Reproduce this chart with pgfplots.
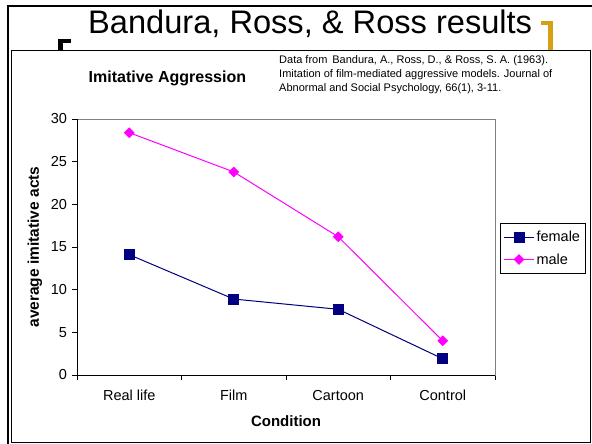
\documentclass[border=0pt]{standalone}
\usepackage{fontspec}
\setmainfont{Liberation Sans}
\usepackage{pgfplots}
\pgfplotsset{compat=1.18}
\definecolor{navyb}{RGB}{0,0,128}
\definecolor{magb}{RGB}{255,0,255}
\definecolor{goldb}{RGB}{214,160,20}
\definecolor{boxgray}{RGB}{128,128,128}
\begin{document}
\begin{tikzpicture}[x=1pt,y=1pt]
\useasboundingbox (0,0) rectangle (592,-444);
\fill[white] (0,0) rectangle (592,-444);
% slide frame
\draw[line width=2.5pt] (8,-460) -- (8,-6.2) -- (600,-6.2);
% corner brackets
\fill[black] (58,-39) rectangle (71,-43.3);
\fill[black] (58,-39) rectangle (62.7,-52);
\fill[goldb] (541,-20.7) rectangle (552.7,-25);
\fill[goldb] (548.3,-20.7) rectangle (552.7,-52);
% slide title
\node[font=\fontsize{32.6}{38}\selectfont, anchor=base west, inner sep=0pt] at (88,-33.5) {Bandura, Ross, \& Ross results};
% chart frame
\fill[white] (11.5,-50.5) rectangle (590.3,-442.5);
\draw[line width=1pt] (11.5,-50.5) rectangle (590.3,-442.5);
% chart title and note
\node[font=\bfseries\fontsize{16}{19}\selectfont, anchor=base west, inner sep=0pt] at (88.5,-82) {Imitative Aggression};
\node[font=\fontsize{11}{14}\selectfont, anchor=base west, inner sep=0pt, align=left] at (279,-91.5) {Data from\, Bandura, A., Ross, D., \& Ross, S. A. (1963).\\Imitation of film-mediated aggressive models. Journal of\\Abnormal and Social Psychology, 66(1), 3-11.};
\begin{axis}[
  at={(77pt,-375pt)}, anchor=south west,
  width=418pt, height=256pt, scale only axis,
  xmin=-0.5, xmax=3.5, ymin=0, ymax=30,
  xtick={0,1,2,3}, xticklabels={Real life,Film,Cartoon,Control},
  major x tick style={draw=none},
  minor xtick={-0.5,0.5,1.5,2.5,3.5},
  ytick={0,5,10,15,20,25,30},
  xtick pos=lower, ytick pos=left,
  tick align=outside, major tick length=5pt, minor tick length=5pt,
  tick style={black, line width=1pt},
  axis line style={draw=boxgray, line width=1pt},
  ticklabel style={font=\fontsize{14.5}{16}\selectfont},
  /pgf/number format/assume math mode=true,
  xticklabel style={yshift=-6pt, text height=10.5pt, text depth=0pt},
  yticklabel style={xshift=-1.5pt},
  xlabel={Condition}, ylabel={average imitative acts},
  xlabel style={font=\bfseries\fontsize{15}{18}\selectfont, at={(axis description cs:0.5,-0.18)}, anchor=center},
  ylabel style={font=\bfseries\fontsize{15.5}{18}\selectfont, at={(axis description cs:-0.1005,0.5)}, anchor=center},
  legend style={at={(1.012,0.5938)}, anchor=north west, draw=black, line width=1pt,
    font=\fontsize{14.5}{17}\selectfont, row sep=6pt, inner xsep=3pt, inner ysep=6pt,
    nodes={inner sep=2pt}},
  legend cell align=left,
  legend image code/.code={\draw[mark repeat=2,mark phase=2] plot coordinates {(0pt,0pt) (15pt,0pt) (30pt,0pt)};},
  after end axis/.code={\draw[black, line width=1pt] (rel axis cs:0,1) -- (rel axis cs:0,0) -- (rel axis cs:1,0);},
]
\addplot[navyb, line width=1pt, mark=square*, mark size=5pt, mark options={solid, fill=navyb, draw=navyb}]
  coordinates {(0,14.1) (1,8.9) (2,7.7) (3,1.9)};
\addlegendentry{female}
\addplot[magb, line width=1pt, mark=square*, mark size=3.3pt, mark options={solid, rotate=45, fill=magb, draw=magb}]
  coordinates {(0,28.4) (1,23.8) (2,16.2) (3,4.0)};
\addlegendentry{male}
\end{axis}
\end{tikzpicture}
\end{document}
